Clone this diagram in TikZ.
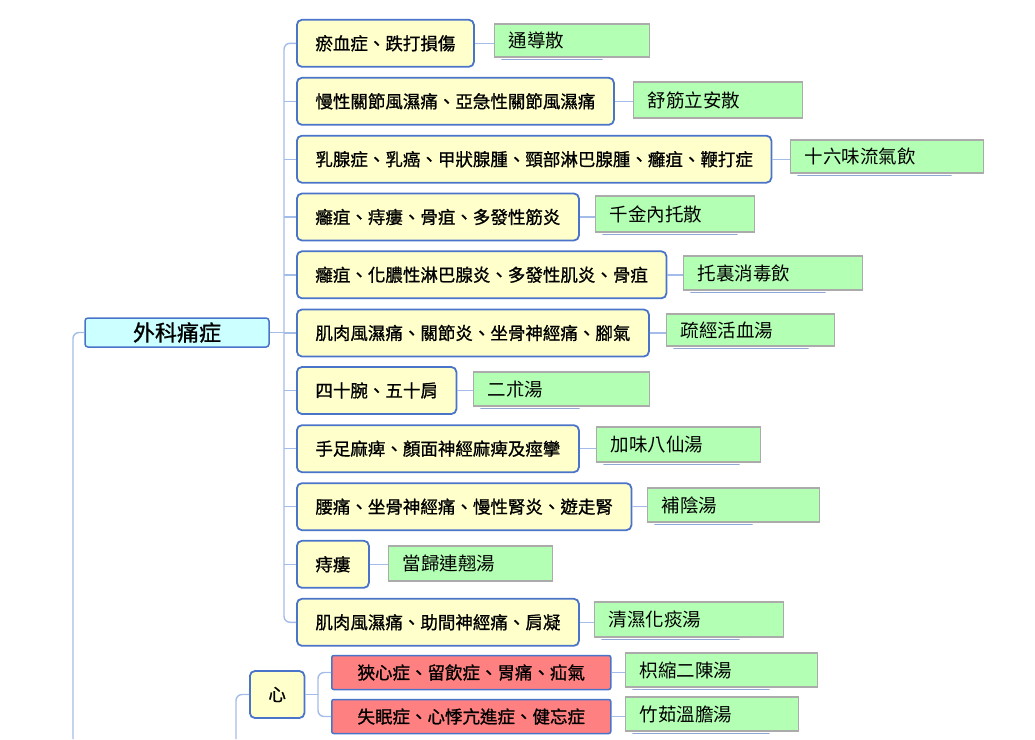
\documentclass[tikz,border=0pt]{standalone}
\usepackage{fontspec}
\newfontfamily\cjk{Noto Sans CJK TC}
\newfontfamily\cjkb[FakeBold=1]{Noto Sans CJK TC}
\definecolor{edge}{HTML}{4A74C9}
\definecolor{wire}{HTML}{A4BCE8}
\definecolor{ylw}{HTML}{FFFFCC}
\definecolor{grn}{HTML}{B3FFB3}
\definecolor{gbd}{HTML}{ABABAB}
\definecolor{rd}{HTML}{FF8080}
\definecolor{cyn}{HTML}{CCFFFF}
\definecolor{shd}{HTML}{8FA7D4}

\begin{document}
\begin{tikzpicture}[x=1pt, y=-1pt,
  root/.style={draw=edge, line width=1.5pt, fill=cyn, rounded corners=3pt, minimum width=184, minimum height=29, inner sep=0pt, font=\cjkb\fontsize{22}{24}\selectfont},
  ill/.style={draw=edge, line width=1.8pt, fill=ylw, rounded corners=5pt, anchor=west, minimum height=47, inner xsep=18.5pt, font=\cjkb\fontsize{17.5}{20}\selectfont},
  rx/.style={draw=edge, line width=1.5pt, fill=rd, rounded corners=2pt, anchor=west, minimum width=279, minimum height=34, inner sep=0pt, font=\cjkb\fontsize{17.5}{20}\selectfont},
  fang/.style={draw=gbd, line width=1.2pt, fill=grn, anchor=west, inner xsep=14pt, inner ysep=0pt, align=left, font=\cjk\fontsize{18.5}{21}\selectfont},
  wire/.style={draw=wire, line width=1.4pt},
  shd/.style={draw=shd, line width=1.6pt, line cap=round}]
  \useasboundingbox (0,0) rectangle (1035,739);

  \node[root] (root) at (177,332.5) {外科痛症};
  \node[ill] (s1) at (296,43.3) {瘀血症、跌打損傷};
  \node[ill] (s2) at (296,101.3) {慢性關節風濕痛、亞急性關節風濕痛};
  \node[ill] (s3) at (296,159.2) {乳腺症、乳癌、甲狀腺腫、頸部淋巴腺腫、癰疽、鞭打症};
  \node[ill] (s4) at (296,217) {癰疽、痔瘻、骨疽、多發性筋炎};
  \node[ill] (s5) at (296,274.8) {癰疽、化膿性淋巴腺炎、多發性肌炎、骨疽};
  \node[ill] (s6) at (296,333) {肌肉風濕痛、關節炎、坐骨神經痛、腳氣};
  \node[ill] (s7) at (296,390.5) {四十腕、五十肩};
  \node[ill] (s8) at (296,448.7) {手足麻痺、顏面神經麻痺及痙攣};
  \node[ill] (s9) at (296,506.7) {腰痛、坐骨神經痛、慢性腎炎、遊走腎};
  \node[ill] (s10) at (296,564.3) {痔瘻};
  \node[ill] (s11) at (296,622.3) {肌肉風濕痛、助間神經痛、肩凝};
  \node[ill] (xin) at (249,694.5) {心};
  \node[rx] (r1) at (331,672.5) {狹心症、留飲症、胃痛、疝氣};
  \node[rx] (r2) at (331,716.5) {失眠症、心悸亢進症、健忘症};

  \node[fang, text width=127, minimum height=33] (f1) at (494,40.5) {通導散};
  \node[fang, text width=141, minimum height=36] (f2) at (633,100) {舒筋立安散};
  \node[fang, text width=165, minimum height=33] (f3) at (790,156.5) {十六味流氣飲};
  \node[fang, text width=131, minimum height=36] (f4) at (595,214) {千金內托散};
  \node[fang, text width=151, minimum height=34] (f5) at (683,273) {托裏消毒飲};
  \node[fang, text width=140, minimum height=32] (f6) at (666,330) {疏經活血湯};
  \node[fang, text width=148, minimum height=34] (f7) at (473,389) {二朮湯};
  \node[fang, text width=136, minimum height=35] (f8) at (596,444.5) {加味八仙湯};
  \node[fang, text width=144, minimum height=34] (f9) at (647,505) {補陰湯};
  \node[fang, text width=136, minimum height=35] (f10) at (388,563.5) {當歸連翹湯};
  \node[fang, text width=161, minimum height=35] (f11) at (594,619.5) {清濕化痰湯};
  \node[fang, text width=164, minimum height=34] (f12) at (625,670) {枳縮二陳湯};
  \node[fang, text width=145, minimum height=34] (f13) at (625,714) {竹茹溫膽湯};

  \coordinate (tr) at (284,332.5);
  \coordinate (lt) at (73,739);
  \coordinate (xb) at (236,739);
  \coordinate (xj) at (318,694.5);

  \draw[wire] (root.east) -- (tr);
  \draw[wire, rounded corners=6pt] (s1.west) -| (tr) |- (s11.west);
  \foreach \i in {2,...,10}
    \draw[wire] (tr |- s\i.west) -- (s\i.west);
  \foreach \i in {1,...,11}
    \draw[wire] (s\i.east) -- (s\i.east -| f\i.west);
  \draw[wire, rounded corners=6pt] (root.west) -| (lt);
  \draw[wire, rounded corners=6pt] (xb) |- (xin.west);
  \draw[wire] (xin.east) -- (xj);
  \draw[wire, rounded corners=6pt] (r1.west) -| (xj) |- (r2.west);
  \draw[wire] (r1.east) -- (r1.east -| f12.west);
  \draw[wire] (r2.east) -- (r2.east -| f13.west);

  \foreach \i/\l in {1/100,3/153,4/134,5/134,6/134,7/98,8/135,9/97,11/137,12/136,13/136}
    \draw[shd] ([shift={(8,2)}]f\i.south west) -- ++(\l,0);
\end{tikzpicture}
\end{document}
